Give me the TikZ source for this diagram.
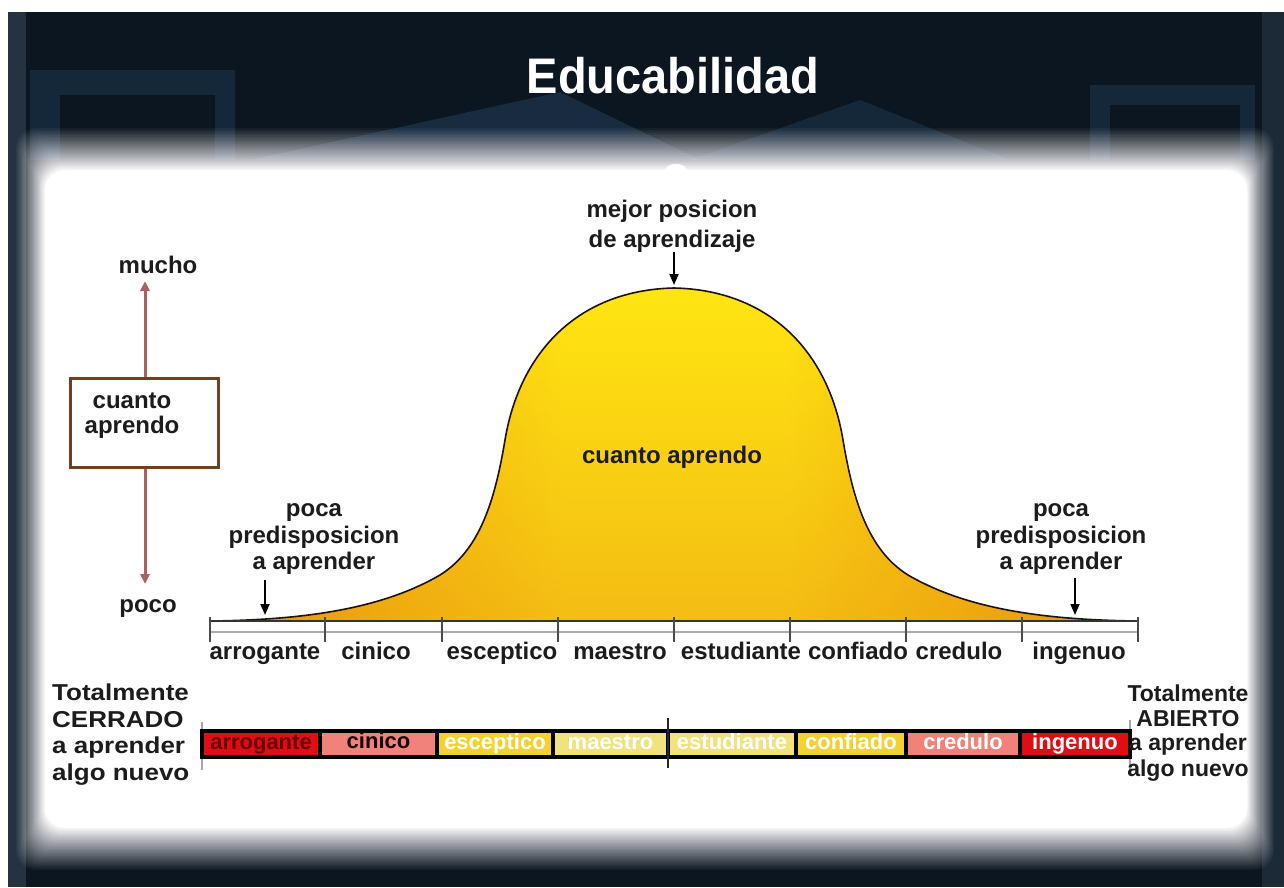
\documentclass[tikz,border=0pt]{standalone}
\usepackage{fontspec}
\setmainfont{Liberation Sans}
\usetikzlibrary{arrows.meta,fadings}
\definecolor{bgdark}{RGB}{12,22,32}
\definecolor{bgblue}{RGB}{34,62,90}
\definecolor{bgedge}{RGB}{60,78,98}
\definecolor{bellyel}{RGB}{255,230,18}
\definecolor{bellgold}{RGB}{248,198,12}
\definecolor{bellora}{RGB}{230,138,22}
\definecolor{txt}{RGB}{28,28,30}
\definecolor{boxbrown}{RGB}{112,62,32}
\definecolor{mauve}{RGB}{168,96,96}
\definecolor{cred}{RGB}{222,14,20}
\definecolor{csal}{RGB}{240,130,122}
\definecolor{cgold}{RGB}{242,210,48}
\definecolor{cpale}{RGB}{242,226,125}
\definecolor{maroon}{RGB}{105,0,0}
\pgfdeclarehorizontalshading{bellshade}{100bp}{color(0bp)=(bellora); color(23bp)=(bellora); color(35bp)=(bellgold); color(44bp)=(bellyel); color(56bp)=(bellyel); color(65bp)=(bellgold); color(77bp)=(bellora); color(100bp)=(bellora)}
\tikzfading[name=bellfade, top color=transparent!100, bottom color=transparent!55]
\tikzset{
  lbl/.style={font=\fontsize{24}{28}\selectfont\bfseries, text=txt, inner sep=0pt, anchor=base},
  side/.style={font=\fontsize{23}{27}\selectfont\bfseries, text=txt, inner sep=0pt, anchor=base},
  barbox/.style={draw=black, line width=3.5pt, minimum height=26pt, inner sep=0pt,
     text height=15pt, text depth=4pt, font=\fontsize{22}{24}\selectfont\bfseries},
  blackarrow/.style={draw=black, line width=1.8pt, -{Triangle[length=11pt,width=9pt]}},
  mauvearrow/.style={draw=mauve, line width=3pt, -{Triangle[length=10pt,width=9pt]}},
  tick/.style={draw=black!70, line width=1.4pt}
}
\begin{document}
\begin{tikzpicture}[x=1pt,y=-1pt]
\useasboundingbox (0,0) rectangle (1284,887);
% frame and dark background
\fill[white] (0,0) rectangle (1284,887);
\fill[bgdark] (8,12) rectangle (1284,887);
% dim background shapes
\fill[bgblue, opacity=.55] (250,160) -- (560,92) -- (700,160) -- cycle;
\fill[bgblue, opacity=.45] (690,160) -- (860,100) -- (1010,160) -- cycle;
\fill[bgblue, opacity=.45] (30,70) rectangle (235,160);
\fill[bgdark] (60,95) rectangle (215,160);
\fill[bgblue, opacity=.45] (1090,85) rectangle (1255,160);
\fill[bgdark] (1110,105) rectangle (1240,160);
\fill[bgedge, opacity=.5] (8,12) rectangle (26,887);
\fill[bgedge, opacity=.35] (1262,12) rectangle (1284,887);
% blurred white panel (linear soft edge)
\foreach \i in {0,...,24}{
  \pgfmathsetmacro{\op}{1/(25-\i)}
  \fill[white, opacity=\op, rounded corners=20pt]
    ({16+\i*1.2},{128+\i*1.76}) rectangle ({1274-\i*1.12},{870-\i*1.76});
}
\fill[white] (676,171) ellipse [x radius=11, y radius=7];
% title
\node[font=\fontsize{50}{56}\selectfont\bfseries, text=white, inner sep=0pt, anchor=base]
  (title) at (673,93) {\scalebox{0.94}[1]{Educabilidad}};
% bell curve
\shade[shading=bellshade]
  (210,621) .. controls (300,620) and (380,610) .. (440,575)
  .. controls (480,550) and (495,500) .. (505,440)
  .. controls (520,350) and (580,290) .. (674,288)
  .. controls (768,290) and (828,350) .. (843,440)
  .. controls (853,500) and (868,550) .. (908,575)
  .. controls (968,610) and (1048,620) .. (1138,621) -- cycle;
\fill[bellora, path fading=bellfade]
  (210,621) .. controls (300,620) and (380,610) .. (440,575)
  .. controls (480,550) and (495,500) .. (505,440)
  .. controls (520,350) and (580,290) .. (674,288)
  .. controls (768,290) and (828,350) .. (843,440)
  .. controls (853,500) and (868,550) .. (908,575)
  .. controls (968,610) and (1048,620) .. (1138,621) -- cycle;
\draw[black!85!brown, line width=1.6pt]
  (210,621) .. controls (300,620) and (380,610) .. (440,575)
  .. controls (480,550) and (495,500) .. (505,440)
  .. controls (520,350) and (580,290) .. (674,288)
  .. controls (768,290) and (828,350) .. (843,440)
  .. controls (853,500) and (868,550) .. (908,575)
  .. controls (968,610) and (1048,620) .. (1138,621);
% axis
\draw[black!80, line width=1.8pt] (210,621) -- (1138,621);
\draw[gray!65, line width=1.8pt] (210,632) -- (1138,632);
\foreach \x in {210,325,442,558,674,790,906,1022,1138}{
  \draw[tick] (\x,617) -- (\x,642);
}
% axis labels
\node[lbl] (a1) at (265,659) {arrogante};
\node[lbl] (a2) at (376,659) {cinico};
\node[lbl] (a3) at (502,659) {esceptico};
\node[lbl] (a4) at (620,659) {maestro};
\node[lbl] (a5) at (741,659) {estudiante};
\node[lbl] (a6) at (858,659) {confiado};
\node[lbl] (a7) at (959,659) {credulo};
\node[lbl] (a8) at (1079,659) {ingenuo};
% top label
\node[lbl] (mp1) at (672,217) {mejor posicion};
\node[lbl] (mp2) at (672,247) {de aprendizaje};
\coordinate (peak) at (674,285);
\draw[blackarrow] (mp2.south -| peak) -- (peak);
% center label
\node[lbl] (ca) at (672,463) {cuanto aprendo};
% left poca
\node[lbl] (lp1) at (314,516) {poca};
\node[lbl] (lp2) at (314,543) {predisposicion};
\node[lbl] (lp3) at (314,569) {a aprender};
\coordinate (lpt) at (265,615);
\draw[blackarrow, shorten <=6pt] (lp3.south -| lpt) -- (lpt);
% right poca
\node[lbl] (rp1) at (1061,516) {poca};
\node[lbl] (rp2) at (1061,543) {predisposicion};
\node[lbl] (rp3) at (1061,569) {a aprender};
\coordinate (rpt) at (1075,615);
\draw[blackarrow, shorten <=4pt] (rp3.south -| rpt) -- (rpt);
% left scale
\node[draw=boxbrown, line width=3pt, minimum width=148pt, minimum height=89pt, inner sep=0pt]
  (cbox) at (144,422.5) {};
\node[lbl] (cb1) at (132,408) {cuanto};
\node[lbl] (cb2) at (132,433) {aprendo};
\coordinate (mtop) at (145,281);
\coordinate (mbot) at (145,584);
\draw[mauvearrow] (cbox.north -| mtop) -- (mtop);
\draw[mauvearrow] (cbox.south -| mbot) -- (mbot);
\node[lbl] (mucho) at (158,273) {mucho};
\node[lbl] (poco) at (148,612) {poco};
% bottom bar
\draw[gray!70, line width=1.4pt] (202,722) -- (202,770);
\draw[gray!70, line width=1.4pt] (1130,720) -- (1130,770);
\node[barbox, fill=cred, text=maroon, minimum width=118pt] (b1) at (261,744) {arrogante};
\node[barbox, fill=csal, text=black!80!maroon, minimum width=117pt] (b2) at (378.5,744) {\raisebox{1.5pt}{cinico}};
\node[barbox, fill=cgold, text=white, minimum width=116pt] (b3) at (495,744) {esceptico};
\node[barbox, fill=cpale, text=white, minimum width=115pt] (b4) at (610.5,744) {maestro};
\node[barbox, fill=cpale, text=white, minimum width=128pt] (b5) at (732,744) {estudiante};
\node[barbox, fill=cgold, text=white, minimum width=110pt] (b6) at (851,744) {confiado};
\node[barbox, fill=csal, text=white, minimum width=114pt] (b7) at (963,744) {credulo};
\node[barbox, fill=cred, text=white, minimum width=110pt] (b8) at (1075,744) {ingenuo};
\draw[black!85, line width=2.2pt] (668,718) -- (668,768);
% left side text
\node[side, anchor=base west] (lt1) at (52,700) {\scalebox{1.13}[1]{Totalmente}};
\node[side, anchor=base west] (lt2) at (52,727) {\scalebox{1.13}[1]{CERRADO}};
\node[side, anchor=base west] (lt3) at (52,753) {\scalebox{1.13}[1]{a aprender}};
\node[side, anchor=base west] (lt4) at (52,780) {\scalebox{1.13}[1]{algo nuevo}};
% right side text
\node[side] (rt1) at (1188,701) {Totalmente};
\node[side] (rt2) at (1188,726) {ABIERTO};
\node[side] (rt3) at (1188,750) {a aprender};
\node[side] (rt4) at (1188,776) {algo nuevo};
\end{tikzpicture}
\end{document}
